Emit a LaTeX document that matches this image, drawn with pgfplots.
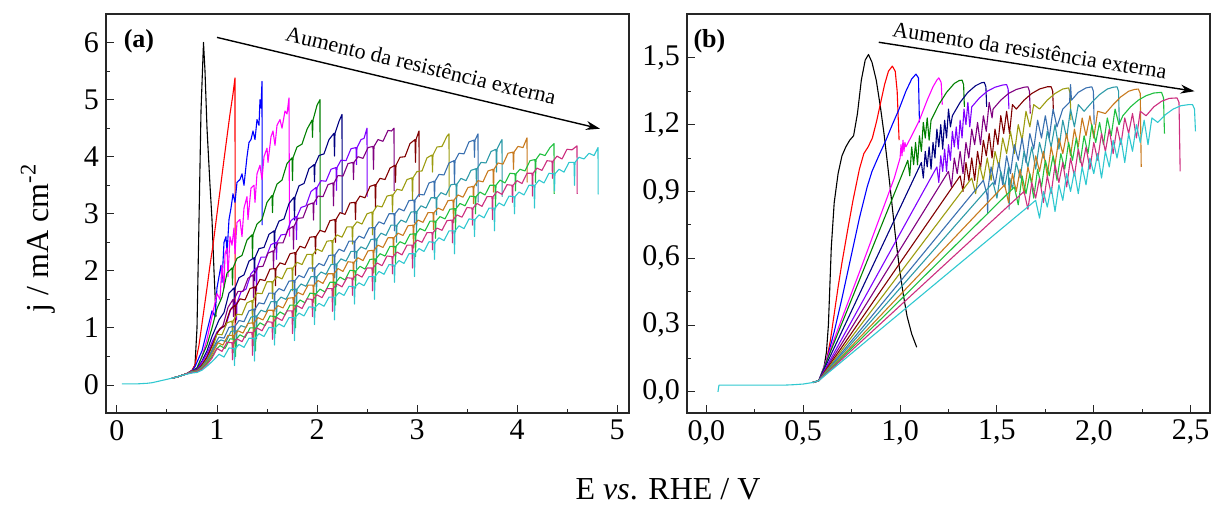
\documentclass[border=0pt]{standalone}
\usepackage{fontspec}
\setmainfont{Liberation Serif}
\usepackage{pgfplots}
\pgfplotsset{compat=1.18}
\usetikzlibrary{arrows.meta}

\definecolor{cBlack}{HTML}{000000}
\definecolor{cRed}{HTML}{FF0000}
\definecolor{cBlue}{HTML}{0000FF}
\definecolor{cMagenta}{HTML}{FF00FF}
\definecolor{cGreen}{HTML}{008000}
\definecolor{cNavy}{HTML}{000080}
\definecolor{cViolet}{HTML}{8000FF}
\definecolor{cPurple}{HTML}{800080}
\definecolor{cWine}{HTML}{800000}
\definecolor{cOlive}{HTML}{9C9C10}
\definecolor{cSteel}{HTML}{3A70B0}
\definecolor{cTeal}{HTML}{2E9AA8}
\definecolor{cOrange}{HTML}{C87A1E}
\definecolor{cLime}{HTML}{20C040}
\definecolor{cPink}{HTML}{CC2E7F}
\definecolor{cCyan}{HTML}{30C8D0}

\pgfplotsset{
  jpanel/.style={
    scale only axis, width=261.5pt, height=199.5pt,
    tick align=inside, xtick pos=bottom, ytick pos=left,
    minor x tick num=1, minor y tick num=1,
    major tick length=4pt, minor tick length=2.2pt,
    axis line style={line width=0.6pt, black!85},
    every tick/.append style={line width=0.5pt, black!85},
    tick label style={font=\fontsize{15}{18}\selectfont, black},
    /pgf/number format/assume math mode=true,
    no markers,
    every axis plot/.append style={line width=0.55pt, line join=round},
  },
}

\begin{document}
\begin{tikzpicture}
\path[use as bounding box] (0,0) rectangle (606pt,253pt);

% ---------------- panel (a) ----------------
\begin{axis}[jpanel, at={(53pt,46.5pt)}, anchor=south west,
  xmin=-0.11, xmax=5.12, ymin=-0.49, ymax=6.5,
  xtick={0,1,2,3,4,5}, ytick={0,1,2,3,4,5,6}]

\addplot[cBlack] coordinates {(0.55,0.12)(0.6,0.14)(0.7,0.2)(0.75,0.25)(0.78,0.35)(0.8,1.0)(0.815,2.4)(0.84,4.8)(0.865,6.0)(0.88,5.5)(0.9,4.5)(0.93,3.5)(0.95,2.9)(0.97,2.0)(0.99,1.2)};

\addplot[cRed] coordinates {(0.55,0.12)(0.6,0.14)(0.7,0.2)(0.75,0.26)(0.78,0.35)(0.82,0.7)(0.86,1.2)(0.9,1.7)(0.93,2.1)(0.96,2.45)(1.0,3.0)(1.03,3.4)(1.07,3.95)(1.1,4.35)(1.13,4.75)(1.16,5.1)(1.18,5.38)(1.182,0.9)};

\addplot[cBlue] coordinates {(0.55,0.12)(0.6,0.14)(0.7,0.2)(0.75,0.25)(0.78,0.32)(0.85,0.6)(0.9,0.95)(0.95,1.3)(0.98,1.2)(1.0,1.7)(1.04,2.1)(1.05,1.8)(1.07,2.5)(1.09,2.6)(1.1,2.3)(1.12,2.9)(1.14,3.1)(1.16,3.35)(1.18,3.2)(1.2,3.55)(1.23,3.6)(1.25,3.7)(1.27,3.5)(1.3,4.0)(1.32,4.25)(1.34,4.3)(1.36,4.45)(1.38,4.3)(1.4,4.65)(1.42,4.55)(1.43,5.0)(1.44,4.85)(1.45,5.32)(1.452,2.8)};

\addplot[cMagenta] coordinates {(0.55,0.12)(0.6,0.14)(0.7,0.2)(0.75,0.25)(0.8,0.3)(0.85,0.5)(0.9,0.8)(0.95,1.2)(1.0,1.6)(1.03,1.5)(1.05,2.1)(1.07,1.7)(1.08,2.3)(1.1,2.4)(1.11,1.9)(1.13,2.6)(1.15,2.45)(1.17,2.75)(1.18,2.3)(1.2,2.85)(1.23,2.9)(1.25,2.6)(1.27,3.1)(1.3,3.3)(1.31,2.9)(1.34,3.45)(1.37,3.5)(1.38,3.2)(1.4,3.7)(1.43,3.85)(1.45,3.6)(1.47,4.0)(1.5,4.15)(1.51,3.9)(1.54,4.35)(1.56,4.45)(1.58,4.2)(1.6,4.55)(1.63,4.65)(1.65,4.5)(1.68,4.8)(1.7,4.75)(1.72,5.03)(1.725,2.6)};

\addplot[cGreen] coordinates {(0.55,0.12)(0.6,0.14)(0.7,0.2)(0.75,0.25)(0.8,0.3)(0.85,0.5)(0.9,0.7)(0.95,1.0)(1.00,1.34)(1.05,1.54)(1.10,1.96)(1.15,2.05)(1.155,1.75)(1.16,2.05)(1.20,2.22)(1.25,2.27)(1.30,2.54)(1.35,2.63)(1.355,2.23)(1.36,2.63)(1.40,2.82)(1.45,2.90)(1.50,3.20)(1.55,3.32)(1.555,3.02)(1.56,3.32)(1.60,3.52)(1.65,3.59)(1.70,3.88)(1.75,3.98)(1.755,3.58)(1.76,3.98)(1.80,4.17)(1.85,4.22)(1.90,4.48)(1.95,4.64)(1.955,4.34)(1.96,4.64)(2.00,4.90)(2.03,5.0)(2.032,2.7)};

\addplot[cNavy] coordinates {(0.55,0.12)(0.6,0.14)(0.7,0.2)(0.75,0.25)(0.8,0.28)(0.85,0.42)(0.9,0.6)(0.95,0.85)(1.02,1.14)(1.07,1.27)(1.12,1.61)(1.17,1.70)(1.175,1.40)(1.18,1.70)(1.22,1.88)(1.27,1.93)(1.32,2.17)(1.37,2.23)(1.375,1.83)(1.38,2.23)(1.42,2.39)(1.47,2.41)(1.52,2.64)(1.57,2.70)(1.575,2.40)(1.58,2.70)(1.62,2.87)(1.67,2.91)(1.72,3.18)(1.77,3.29)(1.775,2.89)(1.78,3.29)(1.82,3.49)(1.87,3.53)(1.92,3.79)(1.97,3.86)(1.975,3.56)(1.98,3.86)(2.02,4.02)(2.07,4.05)(2.12,4.30)(2.17,4.41)(2.175,4.01)(2.18,4.41)(2.22,4.62)(2.25,4.74)(2.252,3.0)};

\addplot[cViolet] coordinates {(0.55,0.12)(0.6,0.14)(0.7,0.2)(0.75,0.25)(0.8,0.27)(0.85,0.4)(0.9,0.55)(0.95,0.75)(1.0,0.93)(1.04,0.99)(1.09,1.05)(1.14,1.34)(1.19,1.44)(1.195,1.14)(1.20,1.44)(1.24,1.63)(1.29,1.68)(1.34,1.95)(1.39,2.05)(1.395,1.65)(1.40,2.05)(1.44,2.24)(1.49,2.24)(1.54,2.46)(1.59,2.50)(1.595,2.20)(1.60,2.50)(1.64,2.63)(1.69,2.64)(1.74,2.88)(1.79,2.95)(1.795,2.55)(1.80,2.95)(1.84,3.11)(1.89,3.14)(1.94,3.39)(1.99,3.46)(1.995,3.16)(2.00,3.46)(2.04,3.58)(2.09,3.57)(2.14,3.78)(2.19,3.81)(2.195,3.41)(2.20,3.81)(2.24,3.94)(2.29,3.93)(2.34,4.14)(2.39,4.16)(2.395,3.86)(2.40,4.16)(2.44,4.30)(2.47,4.32)(2.50,4.5)(2.502,3.3)};

\addplot[cPurple] coordinates {(0.55,0.12)(0.6,0.14)(0.7,0.2)(0.75,0.25)(0.8,0.26)(0.85,0.36)(0.9,0.5)(0.95,0.7)(1.01,0.94)(1.06,1.04)(1.11,1.36)(1.16,1.50)(1.165,1.20)(1.17,1.50)(1.21,1.64)(1.26,1.64)(1.31,1.87)(1.36,1.93)(1.365,1.53)(1.37,1.93)(1.41,2.07)(1.46,2.08)(1.51,2.31)(1.56,2.35)(1.565,2.05)(1.57,2.35)(1.61,2.49)(1.66,2.49)(1.71,2.72)(1.76,2.78)(1.765,2.38)(1.77,2.78)(1.81,2.92)(1.86,2.93)(1.91,3.16)(1.96,3.19)(1.965,2.89)(1.97,3.19)(2.01,3.31)(2.06,3.30)(2.11,3.51)(2.16,3.54)(2.165,3.14)(2.17,3.54)(2.21,3.67)(2.26,3.66)(2.31,3.88)(2.36,3.90)(2.365,3.60)(2.37,3.90)(2.41,4.00)(2.46,3.97)(2.51,4.16)(2.56,4.18)(2.565,3.78)(2.57,4.18)(2.61,4.30)(2.66,4.27)(2.71,4.46)(2.745,4.45)(2.77,4.5)(2.772,3.4)};

\addplot[cWine] coordinates {(0.55,0.12)(0.6,0.14)(0.7,0.2)(0.75,0.24)(0.8,0.26)(0.85,0.35)(0.9,0.48)(0.95,0.68)(1.0,0.9)(1.03,0.99)(1.08,1.04)(1.13,1.31)(1.18,1.40)(1.185,1.10)(1.19,1.40)(1.23,1.51)(1.28,1.49)(1.33,1.69)(1.38,1.72)(1.385,1.32)(1.39,1.72)(1.43,1.85)(1.48,1.83)(1.53,2.03)(1.58,2.04)(1.585,1.74)(1.59,2.04)(1.63,2.14)(1.68,2.11)(1.73,2.30)(1.78,2.32)(1.785,1.92)(1.79,2.32)(1.83,2.43)(1.88,2.40)(1.93,2.59)(1.98,2.60)(1.985,2.30)(1.99,2.60)(2.03,2.71)(2.08,2.68)(2.13,2.88)(2.18,2.90)(2.185,2.50)(2.19,2.90)(2.23,3.02)(2.28,2.99)(2.33,3.19)(2.38,3.20)(2.385,2.90)(2.39,3.20)(2.43,3.31)(2.48,3.28)(2.53,3.48)(2.58,3.51)(2.585,3.11)(2.59,3.51)(2.63,3.62)(2.68,3.60)(2.73,3.80)(2.78,3.85)(2.785,3.55)(2.79,3.85)(2.83,3.99)(2.88,4.00)(2.93,4.23)(2.98,4.30)(2.985,3.90)(2.99,4.30)(3.02,4.45)(3.022,3.3)};

\addplot[cOlive] coordinates {(0.55,0.12)(0.6,0.14)(0.7,0.2)(0.75,0.24)(0.8,0.25)(0.85,0.33)(0.9,0.45)(0.95,0.62)(1.00,0.89)(1.05,0.88)(1.10,1.09)(1.15,1.12)(1.155,0.82)(1.16,1.12)(1.20,1.24)(1.25,1.23)(1.30,1.44)(1.35,1.48)(1.355,1.08)(1.36,1.48)(1.40,1.61)(1.45,1.60)(1.50,1.81)(1.55,1.81)(1.555,1.51)(1.56,1.81)(1.60,1.90)(1.65,1.86)(1.70,2.04)(1.75,2.05)(1.755,1.65)(1.76,2.05)(1.80,2.15)(1.85,2.11)(1.90,2.29)(1.95,2.29)(1.955,1.99)(1.96,2.29)(2.00,2.38)(2.05,2.34)(2.10,2.52)(2.15,2.53)(2.155,2.13)(2.16,2.53)(2.20,2.63)(2.25,2.59)(2.30,2.77)(2.35,2.77)(2.355,2.47)(2.36,2.77)(2.40,2.86)(2.45,2.82)(2.50,3.00)(2.55,3.03)(2.555,2.63)(2.56,3.03)(2.60,3.14)(2.65,3.12)(2.70,3.31)(2.75,3.33)(2.755,3.03)(2.76,3.33)(2.80,3.43)(2.85,3.41)(2.90,3.60)(2.95,3.63)(2.955,3.23)(2.96,3.63)(3.00,3.74)(3.05,3.75)(3.10,3.98)(3.15,4.03)(3.155,3.73)(3.16,4.03)(3.20,4.17)(3.25,4.18)(3.30,4.36)(3.32,4.40)(3.322,3.3)};

\addplot[cSteel] coordinates {(0.55,0.12)(0.6,0.14)(0.7,0.2)(0.75,0.23)(0.8,0.25)(0.85,0.32)(0.9,0.43)(0.95,0.6)(1.0,0.78)(1.02,0.84)(1.07,0.82)(1.12,1.01)(1.17,1.03)(1.175,0.73)(1.18,1.03)(1.22,1.13)(1.27,1.11)(1.32,1.30)(1.37,1.33)(1.375,0.93)(1.38,1.33)(1.42,1.44)(1.47,1.42)(1.52,1.61)(1.57,1.61)(1.575,1.31)(1.58,1.61)(1.62,1.69)(1.67,1.65)(1.72,1.82)(1.77,1.83)(1.775,1.43)(1.78,1.83)(1.82,1.92)(1.87,1.88)(1.92,2.05)(1.97,2.05)(1.975,1.75)(1.98,2.05)(2.02,2.13)(2.07,2.09)(2.12,2.27)(2.17,2.28)(2.175,1.88)(2.18,2.28)(2.22,2.38)(2.27,2.34)(2.32,2.52)(2.37,2.52)(2.375,2.22)(2.38,2.52)(2.42,2.61)(2.47,2.57)(2.52,2.75)(2.57,2.76)(2.575,2.36)(2.58,2.76)(2.62,2.86)(2.67,2.82)(2.72,3.00)(2.77,3.00)(2.775,2.70)(2.78,3.00)(2.82,3.09)(2.87,3.05)(2.92,3.23)(2.97,3.24)(2.975,2.84)(2.98,3.24)(3.02,3.34)(3.07,3.33)(3.12,3.54)(3.17,3.57)(3.175,3.27)(3.18,3.57)(3.22,3.69)(3.27,3.68)(3.32,3.89)(3.37,3.93)(3.375,3.53)(3.38,3.93)(3.42,4.06)(3.47,4.05)(3.52,4.26)(3.57,4.29)(3.575,3.99)(3.58,4.29)(3.61,4.40)(3.612,3.2)};

\addplot[cTeal] coordinates {(0.55,0.12)(0.6,0.14)(0.7,0.2)(0.75,0.23)(0.8,0.24)(0.85,0.31)(0.9,0.41)(0.95,0.57)(1.0,0.74)(1.04,0.79)(1.09,0.76)(1.14,0.94)(1.19,0.95)(1.195,0.65)(1.20,0.95)(1.24,1.04)(1.29,1.01)(1.34,1.19)(1.39,1.21)(1.395,0.81)(1.40,1.21)(1.44,1.31)(1.49,1.28)(1.54,1.46)(1.59,1.46)(1.595,1.16)(1.60,1.46)(1.64,1.54)(1.69,1.50)(1.74,1.67)(1.79,1.68)(1.795,1.28)(1.80,1.68)(1.84,1.77)(1.89,1.73)(1.94,1.90)(1.99,1.90)(1.995,1.60)(2.00,1.90)(2.04,1.98)(2.09,1.94)(2.14,2.11)(2.19,2.12)(2.195,1.72)(2.20,2.12)(2.24,2.21)(2.29,2.17)(2.34,2.34)(2.39,2.34)(2.395,2.04)(2.40,2.34)(2.44,2.42)(2.49,2.38)(2.54,2.55)(2.59,2.56)(2.595,2.16)(2.60,2.56)(2.64,2.66)(2.69,2.62)(2.74,2.80)(2.79,2.80)(2.795,2.50)(2.80,2.80)(2.84,2.89)(2.89,2.85)(2.94,3.03)(2.99,3.04)(2.995,2.64)(3.00,3.04)(3.04,3.14)(3.09,3.10)(3.14,3.28)(3.19,3.28)(3.195,2.98)(3.20,3.28)(3.24,3.37)(3.29,3.33)(3.34,3.51)(3.39,3.52)(3.395,3.12)(3.40,3.52)(3.44,3.62)(3.49,3.58)(3.54,3.76)(3.59,3.79)(3.595,3.49)(3.60,3.79)(3.64,3.90)(3.69,3.89)(3.74,4.09)(3.79,4.13)(3.795,3.73)(3.80,4.13)(3.83,4.24)(3.85,4.30)(3.852,3.3)};

\addplot[cOrange] coordinates {(0.55,0.12)(0.6,0.14)(0.7,0.2)(0.75,0.22)(0.8,0.24)(0.85,0.3)(0.9,0.4)(0.95,0.54)(1.01,0.74)(1.06,0.70)(1.11,0.87)(1.16,0.87)(1.165,0.57)(1.17,0.87)(1.21,0.95)(1.26,0.91)(1.31,1.08)(1.36,1.09)(1.365,0.69)(1.37,1.09)(1.41,1.18)(1.46,1.14)(1.51,1.31)(1.56,1.31)(1.565,1.01)(1.57,1.31)(1.61,1.39)(1.66,1.35)(1.71,1.52)(1.76,1.53)(1.765,1.13)(1.77,1.53)(1.81,1.62)(1.86,1.58)(1.91,1.75)(1.96,1.75)(1.965,1.45)(1.97,1.75)(2.01,1.83)(2.06,1.78)(2.11,1.95)(2.16,1.95)(2.165,1.55)(2.17,1.95)(2.21,2.04)(2.26,1.99)(2.31,2.16)(2.36,2.15)(2.365,1.85)(2.37,2.15)(2.41,2.23)(2.46,2.18)(2.51,2.35)(2.56,2.36)(2.565,1.96)(2.57,2.36)(2.61,2.45)(2.66,2.41)(2.71,2.58)(2.76,2.58)(2.765,2.28)(2.77,2.58)(2.81,2.66)(2.86,2.62)(2.91,2.79)(2.96,2.80)(2.965,2.40)(2.97,2.80)(3.01,2.89)(3.06,2.85)(3.11,3.02)(3.16,3.02)(3.165,2.72)(3.17,3.02)(3.21,3.10)(3.26,3.06)(3.31,3.23)(3.36,3.24)(3.365,2.84)(3.37,3.24)(3.41,3.33)(3.46,3.29)(3.51,3.46)(3.56,3.48)(3.565,3.18)(3.57,3.48)(3.61,3.58)(3.66,3.56)(3.71,3.75)(3.76,3.78)(3.765,3.38)(3.77,3.78)(3.81,3.89)(3.86,3.87)(3.91,4.06)(3.96,4.08)(3.965,3.78)(3.97,4.08)(4.01,4.18)(4.06,4.16)(4.10,4.33)(4.102,3.55)};

\addplot[cLime] coordinates {(0.55,0.12)(0.6,0.14)(0.7,0.2)(0.75,0.22)(0.8,0.23)(0.85,0.29)(0.9,0.38)(0.95,0.5)(1.0,0.64)(1.03,0.69)(1.08,0.64)(1.13,0.81)(1.18,0.80)(1.185,0.50)(1.19,0.80)(1.23,0.88)(1.28,0.83)(1.33,1.00)(1.38,1.00)(1.385,0.60)(1.39,1.00)(1.43,1.09)(1.48,1.04)(1.53,1.21)(1.58,1.20)(1.585,0.90)(1.59,1.20)(1.63,1.28)(1.68,1.23)(1.73,1.40)(1.78,1.40)(1.785,1.00)(1.79,1.40)(1.83,1.49)(1.88,1.44)(1.93,1.61)(1.98,1.60)(1.985,1.30)(1.99,1.60)(2.03,1.68)(2.08,1.63)(2.13,1.80)(2.18,1.80)(2.185,1.40)(2.19,1.80)(2.23,1.89)(2.28,1.84)(2.33,2.01)(2.38,2.00)(2.385,1.70)(2.39,2.00)(2.43,2.08)(2.48,2.03)(2.53,2.20)(2.58,2.21)(2.585,1.81)(2.59,2.21)(2.63,2.30)(2.68,2.26)(2.73,2.43)(2.78,2.43)(2.785,2.13)(2.79,2.43)(2.83,2.51)(2.88,2.47)(2.93,2.64)(2.98,2.65)(2.985,2.25)(2.99,2.65)(3.03,2.74)(3.08,2.70)(3.13,2.87)(3.18,2.87)(3.185,2.57)(3.19,2.87)(3.23,2.95)(3.28,2.91)(3.33,3.08)(3.38,3.09)(3.385,2.69)(3.39,3.09)(3.43,3.18)(3.48,3.14)(3.53,3.31)(3.58,3.30)(3.585,3.00)(3.59,3.30)(3.63,3.38)(3.68,3.33)(3.73,3.50)(3.78,3.50)(3.785,3.10)(3.79,3.50)(3.83,3.59)(3.88,3.54)(3.93,3.71)(3.98,3.70)(3.985,3.40)(3.99,3.70)(4.03,3.78)(4.08,3.75)(4.13,3.93)(4.18,3.95)(4.185,3.55)(4.19,3.95)(4.23,4.05)(4.28,4.02)(4.33,4.16)(4.37,4.23)(4.372,3.35)};

\addplot[cPink] coordinates {(0.55,0.12)(0.6,0.14)(0.7,0.2)(0.75,0.22)(0.8,0.23)(0.85,0.28)(0.9,0.36)(0.95,0.47)(1.00,0.64)(1.05,0.59)(1.10,0.75)(1.15,0.74)(1.155,0.44)(1.16,0.74)(1.20,0.81)(1.25,0.76)(1.30,0.92)(1.35,0.92)(1.355,0.52)(1.36,0.92)(1.40,1.00)(1.45,0.95)(1.50,1.11)(1.55,1.10)(1.555,0.80)(1.56,1.10)(1.60,1.18)(1.65,1.13)(1.70,1.30)(1.75,1.30)(1.755,0.90)(1.76,1.30)(1.80,1.39)(1.85,1.34)(1.90,1.51)(1.95,1.50)(1.955,1.20)(1.96,1.50)(2.00,1.58)(2.05,1.53)(2.10,1.69)(2.15,1.69)(2.155,1.29)(2.16,1.69)(2.20,1.77)(2.25,1.72)(2.30,1.88)(2.35,1.87)(2.355,1.57)(2.36,1.87)(2.40,1.94)(2.45,1.89)(2.50,2.05)(2.55,2.05)(2.555,1.65)(2.56,2.05)(2.60,2.14)(2.65,2.09)(2.70,2.26)(2.75,2.25)(2.755,1.95)(2.76,2.25)(2.80,2.33)(2.85,2.28)(2.90,2.45)(2.95,2.45)(2.955,2.05)(2.96,2.45)(3.00,2.54)(3.05,2.50)(3.10,2.67)(3.15,2.67)(3.155,2.37)(3.16,2.67)(3.20,2.75)(3.25,2.71)(3.30,2.88)(3.35,2.89)(3.355,2.49)(3.36,2.89)(3.40,2.98)(3.45,2.94)(3.50,3.11)(3.55,3.10)(3.555,2.80)(3.56,3.10)(3.60,3.18)(3.65,3.13)(3.70,3.30)(3.75,3.30)(3.755,2.90)(3.76,3.30)(3.80,3.39)(3.85,3.34)(3.90,3.51)(3.95,3.50)(3.955,3.20)(3.96,3.50)(4.00,3.58)(4.05,3.53)(4.10,3.71)(4.15,3.71)(4.155,3.31)(4.16,3.71)(4.20,3.80)(4.25,3.76)(4.30,3.93)(4.35,3.92)(4.355,3.62)(4.36,3.92)(4.40,4.01)(4.45,3.96)(4.50,4.13)(4.55,4.12)(4.60,4.19)(4.602,3.35)};

\addplot[cCyan] coordinates {(0.05,0.02)(0.1,0.02)(0.2,0.02)(0.3,0.03)(0.35,0.04)(0.4,0.06)(0.45,0.08)(0.5,0.1)(0.55,0.12)(0.6,0.14)(0.65,0.17)(0.7,0.19)(0.75,0.21)(0.8,0.22)(0.85,0.26)(0.9,0.33)(0.95,0.41)(1.0,0.5)(1.02,0.54)(1.07,0.49)(1.12,0.65)(1.17,0.64)(1.175,0.34)(1.18,0.64)(1.22,0.71)(1.27,0.66)(1.32,0.82)(1.37,0.82)(1.375,0.42)(1.38,0.82)(1.42,0.90)(1.47,0.85)(1.52,1.01)(1.57,1.00)(1.575,0.70)(1.58,1.00)(1.62,1.07)(1.67,1.02)(1.72,1.18)(1.77,1.18)(1.775,0.78)(1.78,1.18)(1.82,1.26)(1.87,1.21)(1.92,1.37)(1.97,1.36)(1.975,1.06)(1.98,1.36)(2.02,1.43)(2.07,1.38)(2.12,1.54)(2.17,1.54)(2.175,1.14)(2.18,1.54)(2.22,1.62)(2.27,1.57)(2.32,1.73)(2.37,1.72)(2.375,1.42)(2.38,1.72)(2.42,1.79)(2.47,1.74)(2.52,1.90)(2.57,1.90)(2.575,1.50)(2.58,1.90)(2.62,1.99)(2.67,1.94)(2.72,2.11)(2.77,2.10)(2.775,1.80)(2.78,2.10)(2.82,2.18)(2.87,2.13)(2.92,2.30)(2.97,2.30)(2.975,1.90)(2.98,2.30)(3.02,2.39)(3.07,2.34)(3.12,2.51)(3.17,2.50)(3.175,2.20)(3.18,2.50)(3.22,2.58)(3.27,2.53)(3.32,2.70)(3.37,2.70)(3.375,2.30)(3.38,2.70)(3.42,2.79)(3.47,2.74)(3.52,2.91)(3.57,2.90)(3.575,2.60)(3.58,2.90)(3.62,2.98)(3.67,2.93)(3.72,3.10)(3.77,3.10)(3.775,2.70)(3.78,3.10)(3.82,3.19)(3.87,3.14)(3.92,3.31)(3.97,3.30)(3.975,3.00)(3.98,3.30)(4.02,3.38)(4.07,3.33)(4.12,3.50)(4.17,3.50)(4.175,3.10)(4.18,3.50)(4.22,3.59)(4.27,3.54)(4.32,3.71)(4.37,3.70)(4.375,3.40)(4.38,3.70)(4.42,3.78)(4.47,3.73)(4.52,3.90)(4.57,3.90)(4.575,3.50)(4.58,3.90)(4.62,3.99)(4.67,3.96)(4.72,4.06)(4.77,4.02)(4.81,4.16)(4.812,3.34)};

\node[font=\bfseries\fontsize{13}{15}\selectfont] at (axis cs:0.22,6.03) {(a)};
\draw[-{Stealth[length=7pt,width=4.5pt]}, line width=0.7pt] (axis cs:1.0,6.09) -- (axis cs:4.83,4.49);
\node[rotate=-13.4, font=\fontsize{11}{13}\selectfont] at (axis cs:3.04,5.6) {Aumento da resistência externa};
\end{axis}

% ---------------- panel (b) ----------------
\begin{axis}[jpanel, at={(343.5pt,46.5pt)}, anchor=south west,
  xmin=-0.10, xmax=2.6, ymin=-0.095, ymax=1.697,
  xtick={0,0.5,1,1.5,2,2.5}, ytick={0,0.3,0.6,0.9,1.2,1.5},
  /pgf/number format/.cd, use comma, fixed, fixed zerofill, precision=1]

\addplot[cBlack] coordinates {(0.55,0.042)(0.58,0.05)(0.6,0.07)(0.62,0.18)(0.63,0.3)(0.645,0.65)(0.66,0.85)(0.68,0.98)(0.7,1.06)(0.72,1.1)(0.74,1.13)(0.76,1.15)(0.78,1.25)(0.8,1.4)(0.82,1.49)(0.837,1.515)(0.855,1.48)(0.877,1.4)(0.9,1.27)(0.917,1.16)(0.937,1.01)(0.956,0.86)(0.976,0.7)(0.996,0.56)(1.016,0.44)(1.036,0.34)(1.06,0.26)(1.086,0.2)};

\addplot[cRed] coordinates {(0.55,0.042)(0.58,0.05)(0.6,0.08)(0.62,0.14)(0.64,0.23)(0.66,0.35)(0.68,0.47)(0.7,0.58)(0.73,0.73)(0.757,0.86)(0.79,1.0)(0.813,1.07)(0.835,1.1)(0.857,1.14)(0.88,1.22)(0.9,1.3)(0.92,1.38)(0.94,1.44)(0.96,1.463)(0.975,1.44)(0.985,1.35)(0.995,1.13)};

\addplot[cBlue] coordinates {(0.55,0.042)(0.58,0.05)(0.62,0.14)(0.66,0.27)(0.7,0.42)(0.75,0.62)(0.79,0.78)(0.83,0.92)(0.855,0.99)(0.89,1.06)(0.927,1.13)(0.96,1.2)(0.995,1.27)(1.03,1.35)(1.06,1.405)(1.082,1.427)(1.095,1.41)(1.1,1.21)};

\addplot[cMagenta] coordinates {(0.55,0.042)(0.58,0.05)(0.7,0.33)(0.8,0.56)(0.93,0.865)(0.97,0.96)(1.0,1.05)(1.005,1.11)(1.01,1.06)(1.015,1.13)(1.02,1.08)(1.025,1.12)(1.03,1.10)(1.06,1.15)(1.1,1.22)(1.14,1.31)(1.17,1.37)(1.19,1.40)(1.20,1.41)(1.212,1.39)(1.218,1.29)};

\addplot[cGreen] coordinates {(0.55,0.042)(0.58,0.05)(1.04,1.04)(1.05,0.97)(1.06,1.10)(1.07,1.02)(1.08,1.12)(1.09,1.02)(1.10,1.15)(1.11,1.08)(1.12,1.21)(1.13,1.14)(1.14,1.23)(1.15,1.13)(1.16,1.22)(1.20,1.29)(1.24,1.345)(1.28,1.385)(1.305,1.398)(1.32,1.40)(1.328,1.38)(1.332,1.28)};

\addplot[cNavy] coordinates {(0.55,0.042)(0.58,0.05)(1.11,1.03)(1.12,0.96)(1.13,1.08)(1.14,1.01)(1.15,1.10)(1.16,1.00)(1.17,1.12)(1.18,1.05)(1.19,1.18)(1.20,1.10)(1.21,1.20)(1.22,1.09)(1.23,1.22)(1.24,1.14)(1.25,1.27)(1.26,1.19)(1.27,1.24)(1.31,1.30)(1.35,1.345)(1.39,1.375)(1.42,1.388)(1.435,1.39)(1.443,1.37)(1.447,1.28)};

\addplot[cViolet] coordinates {(0.55,0.042)(0.58,0.05)(1.19,1.01)(1.20,0.94)(1.21,1.06)(1.22,0.99)(1.23,1.09)(1.24,0.99)(1.25,1.11)(1.26,1.04)(1.27,1.17)(1.28,1.10)(1.29,1.19)(1.30,1.09)(1.31,1.22)(1.32,1.14)(1.33,1.27)(1.34,1.20)(1.35,1.30)(1.36,1.19)(1.37,1.28)(1.41,1.32)(1.45,1.35)(1.49,1.368)(1.53,1.378)(1.55,1.38)(1.558,1.36)(1.562,1.27)};

\addplot[cPurple] coordinates {(0.55,0.042)(0.58,0.05)(1.25,0.99)(1.265,0.92)(1.28,1.05)(1.295,0.98)(1.31,1.08)(1.325,0.98)(1.34,1.12)(1.355,1.05)(1.37,1.18)(1.385,1.11)(1.40,1.21)(1.415,1.11)(1.43,1.24)(1.445,1.17)(1.46,1.30)(1.475,1.23)(1.48,1.27)(1.52,1.31)(1.56,1.34)(1.60,1.358)(1.64,1.368)(1.66,1.37)(1.668,1.35)(1.672,1.25)};

\addplot[cWine] coordinates {(0.55,0.042)(0.58,0.05)(1.31,0.97)(1.325,0.90)(1.34,1.03)(1.355,0.95)(1.37,1.05)(1.385,0.95)(1.40,1.08)(1.415,1.00)(1.43,1.13)(1.445,1.06)(1.46,1.16)(1.475,1.05)(1.49,1.18)(1.505,1.11)(1.52,1.24)(1.535,1.16)(1.55,1.26)(1.565,1.16)(1.58,1.29)(1.60,1.27)(1.64,1.31)(1.68,1.34)(1.72,1.36)(1.76,1.37)(1.78,1.37)(1.788,1.35)(1.792,1.25)};

\addplot[cOlive] coordinates {(0.55,0.042)(0.58,0.05)(1.37,0.96)(1.39,0.89)(1.41,1.02)(1.43,0.95)(1.45,1.05)(1.47,0.95)(1.49,1.08)(1.51,1.01)(1.53,1.14)(1.55,1.07)(1.57,1.17)(1.59,1.07)(1.61,1.20)(1.63,1.13)(1.65,1.26)(1.67,1.19)(1.69,1.29)(1.72,1.27)(1.76,1.31)(1.80,1.34)(1.84,1.36)(1.87,1.365)(1.878,1.34)(1.882,1.22)};

\addplot[cSteel] coordinates {(0.55,0.042)(0.58,0.05)(1.43,0.95)(1.45,0.88)(1.452,0.80)(1.455,0.92)(1.47,1.01)(1.49,0.93)(1.51,1.03)(1.53,0.93)(1.55,1.06)(1.57,0.98)(1.59,1.11)(1.61,1.04)(1.63,1.14)(1.65,1.03)(1.67,1.16)(1.69,1.09)(1.71,1.22)(1.73,1.14)(1.75,1.24)(1.77,1.14)(1.79,1.27)(1.81,1.19)(1.84,1.27)(1.875,1.30)(1.88,1.38)(1.885,1.31)(1.92,1.345)(1.96,1.365)(1.99,1.37)(1.998,1.35)(2.002,1.20)};

\addplot[cTeal] coordinates {(0.55,0.042)(0.58,0.05)(1.48,0.94)(1.50,0.87)(1.52,0.99)(1.54,0.92)(1.56,1.01)(1.563,0.82)(1.566,0.96)(1.58,0.91)(1.60,1.03)(1.62,0.96)(1.64,1.08)(1.66,1.01)(1.68,1.10)(1.70,1.00)(1.72,1.12)(1.74,1.05)(1.76,1.17)(1.78,1.10)(1.80,1.20)(1.82,1.09)(1.84,1.22)(1.86,1.14)(1.88,1.27)(1.90,1.19)(1.92,1.29)(1.95,1.26)(1.99,1.30)(2.03,1.335)(2.07,1.36)(2.10,1.368)(2.12,1.37)(2.128,1.35)(2.132,1.20)};

\addplot[cOrange] coordinates {(0.55,0.042)(0.58,0.05)(1.54,0.93)(1.56,0.85)(1.58,0.98)(1.60,0.90)(1.62,1.00)(1.64,0.89)(1.66,1.01)(1.68,0.94)(1.70,1.06)(1.72,0.99)(1.74,1.08)(1.76,0.97)(1.78,1.10)(1.80,1.02)(1.82,1.14)(1.84,1.07)(1.86,1.16)(1.88,1.06)(1.90,1.18)(1.92,1.10)(1.94,1.23)(1.96,1.15)(1.98,1.24)(2.00,1.14)(2.02,1.26)(2.06,1.25)(2.10,1.29)(2.14,1.325)(2.18,1.35)(2.21,1.358)(2.23,1.36)(2.24,1.34)(2.245,1.01)};

\addplot[cLime] coordinates {(0.55,0.042)(0.58,0.05)(1.59,0.92)(1.61,0.84)(1.63,0.97)(1.65,0.89)(1.67,0.98)(1.69,0.87)(1.71,1.00)(1.73,0.92)(1.75,1.04)(1.77,0.97)(1.79,1.06)(1.81,0.95)(1.83,1.07)(1.85,1.00)(1.87,1.12)(1.89,1.04)(1.91,1.14)(1.93,1.03)(1.95,1.15)(1.97,1.07)(1.99,1.20)(2.01,1.12)(2.03,1.21)(2.05,1.11)(2.07,1.23)(2.09,1.15)(2.11,1.27)(2.13,1.20)(2.15,1.24)(2.19,1.28)(2.23,1.31)(2.27,1.33)(2.31,1.342)(2.35,1.345)(2.36,1.32)(2.365,1.16)};

\addplot[cPink] coordinates {(0.55,0.042)(0.58,0.05)(1.64,0.90)(1.66,0.82)(1.68,0.94)(1.70,0.87)(1.72,0.96)(1.74,0.85)(1.76,0.97)(1.78,0.89)(1.80,1.02)(1.82,0.94)(1.84,1.03)(1.86,0.92)(1.88,1.05)(1.90,0.97)(1.92,1.09)(1.94,1.01)(1.96,1.10)(1.98,1.00)(2.00,1.12)(2.02,1.04)(2.04,1.16)(2.06,1.08)(2.08,1.18)(2.10,1.07)(2.12,1.19)(2.14,1.11)(2.16,1.23)(2.18,1.16)(2.20,1.25)(2.22,1.14)(2.24,1.26)(2.27,1.24)(2.31,1.28)(2.35,1.305)(2.39,1.318)(2.43,1.32)(2.44,1.30)(2.446,0.99)};

\addplot[cCyan] coordinates {(0.06,0.0)(0.065,0.03)(0.2,0.03)(0.3,0.03)(0.4,0.03)(0.45,0.032)(0.5,0.035)(0.55,0.042)(0.58,0.05)(1.70,0.86)(1.72,0.78)(1.74,0.90)(1.76,0.83)(1.78,0.92)(1.80,0.81)(1.82,0.93)(1.84,0.86)(1.86,0.98)(1.88,0.90)(1.90,0.99)(1.92,0.89)(1.94,1.01)(1.96,0.93)(1.98,1.05)(2.00,0.98)(2.02,1.07)(2.04,0.96)(2.06,1.08)(2.08,1.01)(2.10,1.13)(2.12,1.05)(2.14,1.14)(2.16,1.03)(2.18,1.16)(2.20,1.08)(2.22,1.20)(2.24,1.12)(2.26,1.22)(2.28,1.11)(2.30,1.23)(2.33,1.21)(2.37,1.245)(2.41,1.27)(2.45,1.285)(2.49,1.29)(2.51,1.29)(2.52,1.27)(2.525,1.17)};

\node[font=\bfseries\fontsize{13}{15}\selectfont] at (axis cs:0.016,1.574) {(b)};
\draw[-{Stealth[length=7pt,width=4.5pt]}, line width=0.7pt] (axis cs:0.89,1.57) -- (axis cs:2.52,1.35);
\node[rotate=-8.85, font=\fontsize{11}{13}\selectfont] at (axis cs:1.67,1.535) {Aumento da resistência externa};
\end{axis}

% shared axis titles
\node[rotate=90, font=\fontsize{16}{19}\selectfont] at (19pt,134pt) {j / mA cm\textsuperscript{-2}};
\node[anchor=base, font=\fontsize{16}{19}\selectfont] at (334pt,3pt) {E \textit{vs}. RHE / V};
\end{tikzpicture}
\end{document}
